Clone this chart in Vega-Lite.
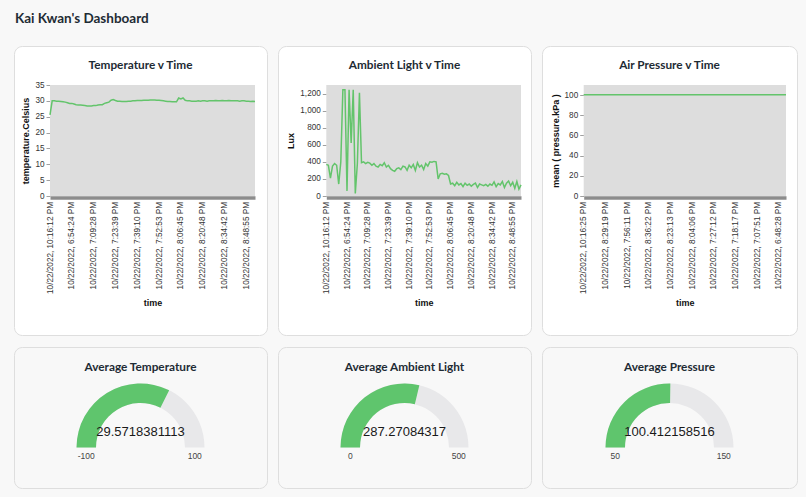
{
  "$schema": "https://vega.github.io/schema/vega-lite/v6.json",
  "background": "#f8f8f8",
  "padding": {"left": 13, "top": 12, "right": 8, "bottom": 8},
  "title": {"text": "Kai Kwan's Dashboard", "anchor": "start", "fontSize": 13.5, "font": "Lato", "fontWeight": "bold", "color": "#1e2b34", "offset": 20, "baseline": "top", "frame": "group", "dx": 1},
  "datasets": {
    "sensor": [
      {"t": "10/22/2022, 10:16:12 PM", "c": 25.6, "l": 370},
      {"t": "10/22/2022, 6:42:10 PM", "c": 30.0, "l": 360},
      {"t": "10/22/2022, 6:43:35 PM", "c": 30.0, "l": 210},
      {"t": "10/22/2022, 6:44:59 PM", "c": 29.9, "l": 350},
      {"t": "10/22/2022, 6:46:24 PM", "c": 29.9, "l": 380},
      {"t": "10/22/2022, 6:47:48 PM", "c": 29.8, "l": 360},
      {"t": "10/22/2022, 6:49:13 PM", "c": 29.7, "l": 140},
      {"t": "10/22/2022, 6:50:37 PM", "c": 29.6, "l": 400},
      {"t": "10/22/2022, 6:52:02 PM", "c": 29.4, "l": 1245},
      {"t": "10/22/2022, 6:53:14 PM", "c": 29.2, "l": 1245},
      {"t": "10/22/2022, 6:54:24 PM", "c": 29.2, "l": 60},
      {"t": "10/22/2022, 6:55:54 PM", "c": 29.0, "l": 1245},
      {"t": "10/22/2022, 6:57:25 PM", "c": 28.8, "l": 620},
      {"t": "10/22/2022, 6:58:55 PM", "c": 28.7, "l": 1245},
      {"t": "10/22/2022, 7:00:26 PM", "c": 28.7, "l": 30},
      {"t": "10/22/2022, 7:01:56 PM", "c": 28.6, "l": 380},
      {"t": "10/22/2022, 7:03:26 PM", "c": 28.5, "l": 1210},
      {"t": "10/22/2022, 7:04:57 PM", "c": 28.4, "l": 390},
      {"t": "10/22/2022, 7:06:27 PM", "c": 28.4, "l": 400},
      {"t": "10/22/2022, 7:07:58 PM", "c": 28.4, "l": 380},
      {"t": "10/22/2022, 7:09:28 PM", "c": 28.5, "l": 395},
      {"t": "10/22/2022, 7:10:53 PM", "c": 28.5, "l": 385},
      {"t": "10/22/2022, 7:12:18 PM", "c": 28.7, "l": 360},
      {"t": "10/22/2022, 7:13:44 PM", "c": 28.8, "l": 380},
      {"t": "10/22/2022, 7:15:09 PM", "c": 28.8, "l": 350},
      {"t": "10/22/2022, 7:16:34 PM", "c": 29.2, "l": 340},
      {"t": "10/22/2022, 7:17:59 PM", "c": 29.4, "l": 370},
      {"t": "10/22/2022, 7:19:24 PM", "c": 29.6, "l": 355},
      {"t": "10/22/2022, 7:20:49 PM", "c": 30.2, "l": 390},
      {"t": "10/22/2022, 7:22:14 PM", "c": 30.4, "l": 340},
      {"t": "10/22/2022, 7:23:39 PM", "c": 30.1, "l": 360},
      {"t": "10/22/2022, 7:25:12 PM", "c": 29.9, "l": 320},
      {"t": "10/22/2022, 7:26:45 PM", "c": 29.9, "l": 300},
      {"t": "10/22/2022, 7:28:18 PM", "c": 29.8, "l": 290},
      {"t": "10/22/2022, 7:29:51 PM", "c": 29.8, "l": 320},
      {"t": "10/22/2022, 7:31:25 PM", "c": 29.8, "l": 330},
      {"t": "10/22/2022, 7:32:58 PM", "c": 29.9, "l": 310},
      {"t": "10/22/2022, 7:34:31 PM", "c": 29.9, "l": 350},
      {"t": "10/22/2022, 7:36:04 PM", "c": 30.0, "l": 340},
      {"t": "10/22/2022, 7:37:37 PM", "c": 30.0, "l": 300},
      {"t": "10/22/2022, 7:39:10 PM", "c": 30.1, "l": 360},
      {"t": "10/22/2022, 7:40:32 PM", "c": 30.1, "l": 330},
      {"t": "10/22/2022, 7:41:55 PM", "c": 30.1, "l": 370},
      {"t": "10/22/2022, 7:43:17 PM", "c": 30.2, "l": 300},
      {"t": "10/22/2022, 7:44:39 PM", "c": 30.2, "l": 390},
      {"t": "10/22/2022, 7:46:02 PM", "c": 30.2, "l": 340},
      {"t": "10/22/2022, 7:47:24 PM", "c": 30.3, "l": 360},
      {"t": "10/22/2022, 7:48:46 PM", "c": 30.3, "l": 310},
      {"t": "10/22/2022, 7:50:08 PM", "c": 30.3, "l": 380},
      {"t": "10/22/2022, 7:51:31 PM", "c": 30.2, "l": 350},
      {"t": "10/22/2022, 7:52:53 PM", "c": 30.2, "l": 400},
      {"t": "10/22/2022, 7:54:16 PM", "c": 30.1, "l": 395},
      {"t": "10/22/2022, 7:55:39 PM", "c": 30.0, "l": 405},
      {"t": "10/22/2022, 7:57:03 PM", "c": 29.9, "l": 400},
      {"t": "10/22/2022, 7:58:26 PM", "c": 29.8, "l": 200},
      {"t": "10/22/2022, 7:59:49 PM", "c": 29.8, "l": 260},
      {"t": "10/22/2022, 8:01:12 PM", "c": 29.7, "l": 265},
      {"t": "10/22/2022, 8:02:35 PM", "c": 29.7, "l": 255},
      {"t": "10/22/2022, 8:03:59 PM", "c": 29.7, "l": 260},
      {"t": "10/22/2022, 8:05:22 PM", "c": 30.9, "l": 240},
      {"t": "10/22/2022, 8:06:45 PM", "c": 30.6, "l": 140},
      {"t": "10/22/2022, 8:08:09 PM", "c": 30.9, "l": 150},
      {"t": "10/22/2022, 8:09:33 PM", "c": 30.2, "l": 120},
      {"t": "10/22/2022, 8:10:58 PM", "c": 30.0, "l": 160},
      {"t": "10/22/2022, 8:12:22 PM", "c": 30.0, "l": 130},
      {"t": "10/22/2022, 8:13:46 PM", "c": 29.9, "l": 145},
      {"t": "10/22/2022, 8:15:10 PM", "c": 29.9, "l": 110},
      {"t": "10/22/2022, 8:16:35 PM", "c": 29.9, "l": 150},
      {"t": "10/22/2022, 8:17:59 PM", "c": 30.0, "l": 125},
      {"t": "10/22/2022, 8:19:23 PM", "c": 29.9, "l": 140},
      {"t": "10/22/2022, 8:20:48 PM", "c": 30.0, "l": 115},
      {"t": "10/22/2022, 8:22:11 PM", "c": 30.0, "l": 135},
      {"t": "10/22/2022, 8:23:35 PM", "c": 29.9, "l": 150},
      {"t": "10/22/2022, 8:24:58 PM", "c": 30.0, "l": 100},
      {"t": "10/22/2022, 8:26:22 PM", "c": 30.0, "l": 140},
      {"t": "10/22/2022, 8:27:45 PM", "c": 30.0, "l": 130},
      {"t": "10/22/2022, 8:29:08 PM", "c": 30.1, "l": 120},
      {"t": "10/22/2022, 8:30:32 PM", "c": 30.0, "l": 135},
      {"t": "10/22/2022, 8:31:55 PM", "c": 30.0, "l": 115},
      {"t": "10/22/2022, 8:33:19 PM", "c": 30.1, "l": 140},
      {"t": "10/22/2022, 8:34:42 PM", "c": 30.0, "l": 125},
      {"t": "10/22/2022, 8:36:07 PM", "c": 30.0, "l": 165},
      {"t": "10/22/2022, 8:37:32 PM", "c": 30.1, "l": 110},
      {"t": "10/22/2022, 8:38:58 PM", "c": 30.0, "l": 145},
      {"t": "10/22/2022, 8:40:23 PM", "c": 30.0, "l": 130},
      {"t": "10/22/2022, 8:41:48 PM", "c": 30.0, "l": 170},
      {"t": "10/22/2022, 8:43:13 PM", "c": 30.0, "l": 100},
      {"t": "10/22/2022, 8:44:38 PM", "c": 29.9, "l": 150},
      {"t": "10/22/2022, 8:46:04 PM", "c": 30.0, "l": 175},
      {"t": "10/22/2022, 8:47:29 PM", "c": 30.0, "l": 120},
      {"t": "10/22/2022, 8:48:55 PM", "c": 29.9, "l": 160},
      {"t": "10/22/2022, 8:50:20 PM", "c": 29.9, "l": 90},
      {"t": "10/22/2022, 8:51:45 PM", "c": 29.8, "l": 170},
      {"t": "10/22/2022, 8:53:10 PM", "c": 29.9, "l": 80},
      {"t": "10/22/2022, 8:54:36 PM", "c": 29.8, "l": 130}
    ],
    "pres": [
      {"t": "10/22/2022, 10:16:25 PM", "p": 100.41},
      {"t": "10/22/2022, 8:11:02 PM", "p": 100.42},
      {"t": "10/22/2022, 7:41:37 PM", "p": 100.41},
      {"t": "10/22/2022, 8:29:19 PM", "p": 100.40},
      {"t": "10/22/2022, 7:01:44 PM", "p": 100.42},
      {"t": "10/22/2022, 8:52:10 PM", "p": 100.41},
      {"t": "10/22/2022, 7:56:11 PM", "p": 100.41},
      {"t": "10/22/2022, 7:14:23 PM", "p": 100.42},
      {"t": "10/22/2022, 8:18:49 PM", "p": 100.40},
      {"t": "10/22/2022, 8:36:22 PM", "p": 100.41},
      {"t": "10/22/2022, 6:57:31 PM", "p": 100.43},
      {"t": "10/22/2022, 7:47:58 PM", "p": 100.41},
      {"t": "10/22/2022, 8:23:13 PM", "p": 100.41},
      {"t": "10/22/2022, 8:44:06 PM", "p": 100.40},
      {"t": "10/22/2022, 7:31:40 PM", "p": 100.42},
      {"t": "10/22/2022, 8:04:06 PM", "p": 100.41},
      {"t": "10/22/2022, 7:10:15 PM", "p": 100.42},
      {"t": "10/22/2022, 8:00:27 PM", "p": 100.41},
      {"t": "10/22/2022, 7:27:12 PM", "p": 100.42},
      {"t": "10/22/2022, 8:40:51 PM", "p": 100.40},
      {"t": "10/22/2022, 6:52:19 PM", "p": 100.43},
      {"t": "10/22/2022, 7:18:17 PM", "p": 100.42},
      {"t": "10/22/2022, 7:52:04 PM", "p": 100.41},
      {"t": "10/22/2022, 8:14:36 PM", "p": 100.41},
      {"t": "10/22/2022, 7:07:51 PM", "p": 100.42},
      {"t": "10/22/2022, 7:36:29 PM", "p": 100.41},
      {"t": "10/22/2022, 8:47:45 PM", "p": 100.40},
      {"t": "10/22/2022, 6:48:28 PM", "p": 100.43},
      {"t": "10/22/2022, 7:22:50 PM", "p": 100.42}
    ]
  },
  "spacing": 10,
  "vconcat": [
    {
      "spacing": 9,
      "hconcat": [
        {
          "width": 253, "height": 289,
          "title": "Temperature v Time",
          "data": {"name": "sensor"},
          "layer": [
            {
              "mark": {"type": "area", "color": "#dddddd"},
              "encoding": {
                "x": {"field": "t", "type": "ordinal", "title": "time",
                  "scale": {"type": "point", "padding": 0, "range": [36, 241]},
                  "axis": {"values": ["10/22/2022, 10:16:12 PM", "10/22/2022, 6:54:24 PM", "10/22/2022, 7:09:28 PM", "10/22/2022, 7:23:39 PM", "10/22/2022, 7:39:10 PM", "10/22/2022, 7:52:53 PM", "10/22/2022, 8:06:45 PM", "10/22/2022, 8:20:48 PM", "10/22/2022, 8:34:42 PM", "10/22/2022, 8:48:55 PM"], "offset": -137.5}},
                "y": {"datum": 35, "type": "quantitative", "title": "temperature.Celsius",
                  "scale": {"domain": [0, 35], "range": [150, 39], "nice": false, "zero": false},
                  "axis": {"values": [0, 5, 10, 15, 20, 25, 30, 35], "offset": -36}},
                "y2": {"datum": 0}
              }
            },
            {
              "mark": {"type": "line", "color": "#63c46b", "strokeWidth": 1.5},
              "encoding": {
                "x": {"field": "t", "type": "ordinal", "title": "time"},
                "y": {"field": "c", "type": "quantitative", "title": "temperature.Celsius"}
              }
            }
          ]
        },
        {
          "width": 253, "height": 289,
          "title": "Ambient Light v Time",
          "data": {"name": "sensor"},
          "layer": [
            {
              "mark": {"type": "area", "color": "#dddddd"},
              "encoding": {
                "x": {"field": "t", "type": "ordinal", "title": "time",
                  "scale": {"type": "point", "padding": 0, "range": [48.3, 243]},
                  "axis": {"values": ["10/22/2022, 10:16:12 PM", "10/22/2022, 6:54:24 PM", "10/22/2022, 7:09:28 PM", "10/22/2022, 7:23:39 PM", "10/22/2022, 7:39:10 PM", "10/22/2022, 7:52:53 PM", "10/22/2022, 8:06:45 PM", "10/22/2022, 8:20:48 PM", "10/22/2022, 8:34:42 PM", "10/22/2022, 8:48:55 PM"], "offset": -137.5}},
                "y": {"datum": 1300, "type": "quantitative", "title": "Lux",
                  "scale": {"domain": [0, 1300], "range": [150, 39], "nice": false, "zero": false},
                  "axis": {"values": [0, 100, 200, 300, 400, 500, 600, 700, 800, 900, 1000, 1100, 1200, 1300], "labelExpr": "datum.value % 200 === 0 ? format(datum.value, ',') : ''", "offset": -48.3}},
                "y2": {"datum": 0}
              }
            },
            {
              "mark": {"type": "line", "color": "#63c46b", "strokeWidth": 1.5},
              "encoding": {
                "x": {"field": "t", "type": "ordinal", "title": "time"},
                "y": {"field": "l", "type": "quantitative", "title": "Lux"}
              }
            }
          ]
        },
        {
          "width": 255, "height": 289,
          "title": "Air Pressure v Time",
          "data": {"name": "pres"},
          "layer": [
            {
              "mark": {"type": "area", "color": "#dddddd"},
              "encoding": {
                "x": {"field": "t", "type": "nominal", "sort": null, "title": "time",
                  "scale": {"type": "point", "padding": 0, "range": [41.7, 244]},
                  "axis": {"values": ["10/22/2022, 10:16:25 PM", "10/22/2022, 8:29:19 PM", "10/22/2022, 7:56:11 PM", "10/22/2022, 8:36:22 PM", "10/22/2022, 8:23:13 PM", "10/22/2022, 8:04:06 PM", "10/22/2022, 7:27:12 PM", "10/22/2022, 7:18:17 PM", "10/22/2022, 7:07:51 PM", "10/22/2022, 6:48:28 PM"], "offset": -137.5}},
                "y": {"datum": 110, "type": "quantitative", "title": "mean ( pressure.kPa )",
                  "scale": {"domain": [0, 110], "range": [150, 39], "nice": false, "zero": false},
                  "axis": {"values": [0, 10, 20, 30, 40, 50, 60, 70, 80, 90, 100, 110], "labelExpr": "datum.value % 20 === 0 ? datum.label : ''", "offset": -41.7}},
                "y2": {"datum": 0}
              }
            },
            {
              "mark": {"type": "line", "color": "#63c46b", "strokeWidth": 1.5},
              "encoding": {
                "x": {"field": "t", "type": "nominal", "sort": null, "title": "time"},
                "y": {"field": "p", "type": "quantitative", "title": "mean ( pressure.kPa )"}
              }
            }
          ]
        }
      ]
    },
    {
      "spacing": 9,
      "hconcat": [
        {
          "width": 253, "height": 141,
          "title": {"text": "Average Temperature", "offset": -27},
          "data": {"values": [{"mn": -100, "mx": 100, "v": 29.5718381113, "vl": "29.5718381113", "mnl": "-100", "mxl": "100"}]},
          "layer": [
            {"mark": {"type": "rule", "opacity": 0},
             "encoding": {"y": {"datum": 0, "type": "quantitative", "axis": null, "scale": {"domain": [0, 1]}}}},
            {"mark": {"type": "arc", "radius": 64, "radius2": 44.5, "color": "#e8e8ea", "yOffset": 30},
             "encoding": {"theta": {"field": "mn", "type": "quantitative", "stack": null, "scale": {"domain": [-100, 100], "range": [-1.5708, 1.5708], "nice": false, "zero": false}}, "theta2": {"field": "mx"}}},
            {"mark": {"type": "arc", "radius": 64, "radius2": 44.5, "color": "#5fc56d", "yOffset": 30},
             "encoding": {"theta": {"field": "mn", "type": "quantitative", "stack": null}, "theta2": {"field": "v"}}},
            {"mark": {"type": "text", "fontSize": 13, "dy": -16, "yOffset": 30, "color": "#1a1a1a"},
             "encoding": {"text": {"field": "vl", "type": "nominal"}}},
            {"mark": {"type": "text", "fontSize": 8.5, "radius": 54.25, "dy": 8, "yOffset": 30, "color": "#444444"},
             "encoding": {"theta": {"field": "mn", "type": "quantitative", "stack": null}, "text": {"field": "mnl", "type": "nominal"}}},
            {"mark": {"type": "text", "fontSize": 8.5, "radius": 54.25, "dy": 8, "yOffset": 30, "color": "#444444"},
             "encoding": {"theta": {"field": "mx", "type": "quantitative", "stack": null}, "text": {"field": "mxl", "type": "nominal"}}}
          ]
        },
        {
          "width": 253, "height": 141,
          "title": {"text": "Average Ambient Light", "offset": -27},
          "data": {"values": [{"mn": 0, "mx": 500, "v": 287.27084317, "vl": "287.27084317", "mnl": "0", "mxl": "500"}]},
          "layer": [
            {"mark": {"type": "rule", "opacity": 0},
             "encoding": {"y": {"datum": 0, "type": "quantitative", "axis": null, "scale": {"domain": [0, 1]}}}},
            {"mark": {"type": "arc", "radius": 64, "radius2": 44.5, "color": "#e8e8ea", "yOffset": 30},
             "encoding": {"theta": {"field": "mn", "type": "quantitative", "stack": null, "scale": {"domain": [0, 500], "range": [-1.5708, 1.5708], "nice": false, "zero": false}}, "theta2": {"field": "mx"}}},
            {"mark": {"type": "arc", "radius": 64, "radius2": 44.5, "color": "#5fc56d", "yOffset": 30},
             "encoding": {"theta": {"field": "mn", "type": "quantitative", "stack": null}, "theta2": {"field": "v"}}},
            {"mark": {"type": "text", "fontSize": 13, "dy": -16, "yOffset": 30, "color": "#1a1a1a"},
             "encoding": {"text": {"field": "vl", "type": "nominal"}}},
            {"mark": {"type": "text", "fontSize": 8.5, "radius": 54.25, "dy": 8, "yOffset": 30, "color": "#444444"},
             "encoding": {"theta": {"field": "mn", "type": "quantitative", "stack": null}, "text": {"field": "mnl", "type": "nominal"}}},
            {"mark": {"type": "text", "fontSize": 8.5, "radius": 54.25, "dy": 8, "yOffset": 30, "color": "#444444"},
             "encoding": {"theta": {"field": "mx", "type": "quantitative", "stack": null}, "text": {"field": "mxl", "type": "nominal"}}}
          ]
        },
        {
          "width": 255, "height": 141,
          "title": {"text": "Average Pressure", "offset": -27},
          "data": {"values": [{"mn": 50, "mx": 150, "v": 100.412158516, "vl": "100.412158516", "mnl": "50", "mxl": "150"}]},
          "layer": [
            {"mark": {"type": "rule", "opacity": 0},
             "encoding": {"y": {"datum": 0, "type": "quantitative", "axis": null, "scale": {"domain": [0, 1]}}}},
            {"mark": {"type": "arc", "radius": 64, "radius2": 44.5, "color": "#e8e8ea", "yOffset": 30},
             "encoding": {"theta": {"field": "mn", "type": "quantitative", "stack": null, "scale": {"domain": [50, 150], "range": [-1.5708, 1.5708], "nice": false, "zero": false}}, "theta2": {"field": "mx"}}},
            {"mark": {"type": "arc", "radius": 64, "radius2": 44.5, "color": "#5fc56d", "yOffset": 30},
             "encoding": {"theta": {"field": "mn", "type": "quantitative", "stack": null}, "theta2": {"field": "v"}}},
            {"mark": {"type": "text", "fontSize": 13, "dy": -16, "yOffset": 30, "color": "#1a1a1a"},
             "encoding": {"text": {"field": "vl", "type": "nominal"}}},
            {"mark": {"type": "text", "fontSize": 8.5, "radius": 54.25, "dy": 8, "yOffset": 30, "color": "#444444"},
             "encoding": {"theta": {"field": "mn", "type": "quantitative", "stack": null}, "text": {"field": "mnl", "type": "nominal"}}},
            {"mark": {"type": "text", "fontSize": 8.5, "radius": 54.25, "dy": 8, "yOffset": 30, "color": "#444444"},
             "encoding": {"theta": {"field": "mx", "type": "quantitative", "stack": null}, "text": {"field": "mxl", "type": "nominal"}}}
          ]
        }
      ]
    }
  ],
  "config": {
    "view": {"fill": "white", "stroke": "#dedede", "strokeWidth": 1, "cornerRadius": 8},
    "title": {"font": "Lato", "fontWeight": "bold", "fontSize": 11.8, "color": "#1e2b34", "offset": -26, "baseline": "middle"},
    "text": {"font": "Liberation Sans"},
    "axis": {"labelFont": "Liberation Sans", "titleFont": "Liberation Sans", "labelFontSize": 8.2, "titleFontSize": 9, "titleFontWeight": "bold", "labelColor": "#333333", "titleColor": "#111111", "grid": false},
    "axisX": {"labelAngle": -90, "ticks": false, "domainColor": "#8c8c8c", "domainWidth": 3.5, "labelPadding": 4, "labelOverlap": false, "titlePadding": 5},
    "axisY": {"domain": false, "tickColor": "#a0a0a0", "tickSize": 4, "labelPadding": 2, "titlePadding": 4}
  }
}
